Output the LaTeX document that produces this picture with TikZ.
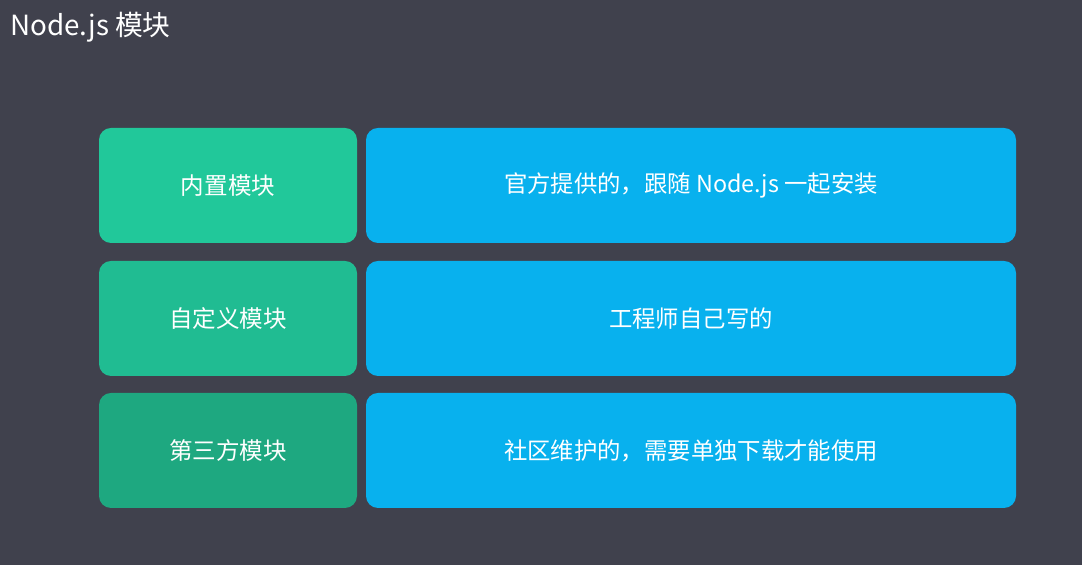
\documentclass[tikz,border=0pt]{standalone}
\usepackage{fontspec}
\setmainfont{Noto Sans CJK SC}
\usepackage{tikz}
\usetikzlibrary{positioning}

\definecolor{bgdark}{HTML}{40414D}
\definecolor{greenA}{HTML}{21C89A}
\definecolor{greenB}{HTML}{20BC92}
\definecolor{greenC}{HTML}{1EA880}
\definecolor{skyblue}{HTML}{08B1EE}

\begin{document}
\begin{tikzpicture}[
        kind/.style={rectangle, rounded corners=0.24cm, minimum width=5.16cm, minimum height=2.3cm, align=center, text=white, font=\fontsize{13.4pt}{16pt}\selectfont, inner sep=0pt},
        desc/.style={rectangle, rounded corners=0.24cm, minimum width=13cm, minimum height=2.3cm, align=center, text=white, fill=skyblue, font=\fontsize{13.3pt}{16pt}\selectfont, inner sep=0pt}
    ]

    % Background
    \fill[bgdark] (0,0) rectangle (21.64,11.3);
    \useasboundingbox (0,0) rectangle (21.64,11.3);

    % Title
    \node[anchor=west, text=white, font=\fontsize{15.8pt}{19pt}\selectfont, inner sep=0pt] (title) at (0.2, 10.76) {Node.js 模块};

    % Module kinds
    \node[kind, fill=greenA] (builtin) at (4.56, 7.59) {内置模块};
    \node[kind, fill=greenB] (custom) at (4.56, 4.93) {自定义模块};
    \node[kind, fill=greenC] (thirdparty) at (4.56, 2.29) {第三方模块};

    % Descriptions
    \node[desc] (builtindesc) at (13.82, 7.59) {官方提供的，跟随 Node.js 一起安装};
    \node[desc] (customdesc) at (13.82, 4.93) {工程师自己写的};
    \node[desc] (thirdpartydesc) at (13.82, 2.29) {社区维护的，需要单独下载才能使用};

\end{tikzpicture}
\end{document}
